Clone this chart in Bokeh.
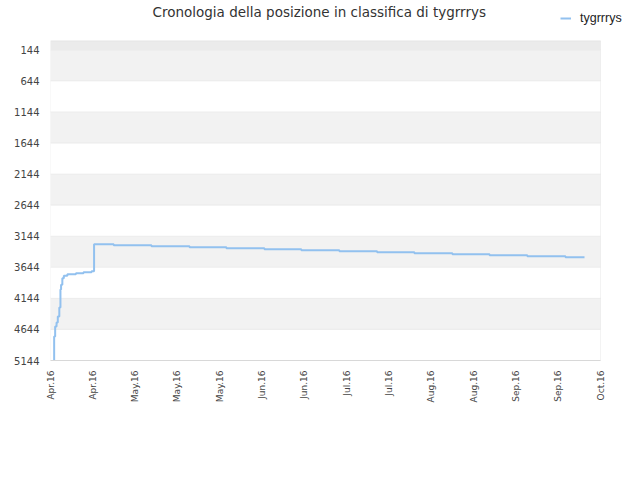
import pandas as pd
from bokeh.plotting import figure
from bokeh.models import (Range1d, FixedTicker, DatetimeTickFormatter, BoxAnnotation,
                          Legend, LegendItem)
from bokeh.embed import file_html
from bokeh.resources import INLINE

# ---- data ----
title_text = "Cronologia della posizione in classifica di tygrrrys"
series_name = "tygrrrys"
dates = [
    "2016-04-04 22:00", "2016-04-05 05:00", "2016-04-05 13:00", "2016-04-06 00:00",
    "2016-04-06 10:00", "2016-04-06 22:00", "2016-04-07 07:00", "2016-04-07 12:00",
    "2016-04-07 22:00", "2016-04-08 10:00", "2016-04-09 14:00", "2016-04-12 10:00",
    "2016-04-14 22:00", "2016-04-17 14:00", "2016-04-18 10:00", "2016-04-24 22:00",
    "2016-05-07 10:00", "2016-05-20 00:00", "2016-06-01 05:00", "2016-06-13 19:00",
    "2016-06-26 00:00", "2016-07-08 14:00", "2016-07-21 02:00", "2016-08-02 10:00",
    "2016-08-15 00:00", "2016-08-27 07:00", "2016-09-08 19:00", "2016-09-21 10:00",
    "2016-09-27 17:00",
]
ranks = [
    5140, 4758, 4597, 4533,
    4436, 4291, 4001, 3926,
    3820, 3781, 3755, 3739,
    3723, 3707, 3272, 3288,
    3304, 3320, 3336, 3352,
    3368, 3385, 3401, 3417,
    3433, 3449, 3465, 3481,
    3481,
]
y_ticks = [144, 644, 1144, 1644, 2144, 2644, 3144, 3644, 4144, 4644, 5144]
x_tick_dates = ["2016-04-04", "2016-04-18", "2016-05-02", "2016-05-16", "2016-05-30",
                "2016-06-13", "2016-06-27", "2016-07-11", "2016-07-25", "2016-08-08",
                "2016-08-22", "2016-09-05", "2016-09-19", "2016-10-03"]
x_start, x_end = "2016-04-04", "2016-10-03"
y_top, y_bottom = -1, 5144

# ---- layout (pixels) ----
W, H = 640, 480
AREA_L, AREA_R, AREA_T, AREA_B = 50, 600, 40.3, 360     # visible plot area
FRAME_T, FRAME_R = 11, 632                                # drawing frame (room for legend)

x = pd.to_datetime(dates)
xt = pd.to_datetime(x_tick_dates)
ms = lambda s: pd.Timestamp(s).value / 1e6
x0, x1 = ms(x_start), ms(x_end)
x_frame_end = x0 + (x1 - x0) * (FRAME_R - AREA_L) / (AREA_R - AREA_L)
per_px = (y_bottom - y_top) / (AREA_B - AREA_T)
y_frame_top = y_top - (AREA_T - FRAME_T) * per_px

p = figure(width=W, height=H, x_axis_type="datetime",
           output_backend="svg", toolbar_location=None,
           x_range=Range1d(x0, x_frame_end),
           y_range=Range1d(y_bottom, y_frame_top),
           min_border_left=AREA_L, min_border_right=W - FRAME_R,
           min_border_top=FRAME_T, min_border_bottom=H - AREA_B)

p.background_fill_color = "white"
p.border_fill_color = "white"
p.outline_line_color = None
p.xgrid.grid_line_color = None
p.ygrid.grid_line_color = None

# plot-area bands
p.add_layout(BoxAnnotation(left=x0, right=x1, bottom=y_top, top=y_ticks[0],
                           fill_color="#ebebeb", fill_alpha=1, line_alpha=0, level="underlay"))
for i in range(0, len(y_ticks) - 1, 2):
    p.add_layout(BoxAnnotation(left=x0, right=x1, bottom=y_ticks[i], top=y_ticks[i + 1],
                               fill_color="#f2f2f2", fill_alpha=1, line_alpha=0,
                               level="underlay"))
# horizontal grid lines
for t in y_ticks:
    p.add_layout(BoxAnnotation(left=x0, right=x1, bottom=t, top=t, fill_alpha=0,
                               line_color="#e3e3e3", line_width=1, level="underlay"))
# plot-area border
p.add_layout(BoxAnnotation(left=x0, right=x1, bottom=y_bottom, top=y_top, fill_alpha=0,
                           line_color="#d8d8d8", line_width=1, level="underlay"))

r = p.step(x, ranks, mode="after", line_color="#92c1ef", line_width=2)

# y axis
p.yaxis.ticker = FixedTicker(ticks=y_ticks)
p.yaxis.axis_line_color = None
p.yaxis.major_tick_line_color = None
p.yaxis.minor_tick_line_color = None
p.yaxis.major_tick_out = 0
p.yaxis.major_label_standoff = 11
p.yaxis.major_label_text_font = "DejaVu Sans"
p.yaxis.major_label_text_font_size = "10px"
p.yaxis.major_label_text_color = "#444444"

# x axis
p.xaxis.ticker = FixedTicker(ticks=[t.value / 1e6 for t in xt])
p.xaxis.formatter = DatetimeTickFormatter(days="%b.%y", months="%b.%y", hours="%b.%y")
p.xaxis.major_label_orientation = 3.14159265 / 2
p.xaxis.bounds = (x0, x1)
p.xaxis.axis_line_color = "#d8d8d8"
p.xaxis.major_tick_line_color = None
p.xaxis.minor_tick_line_color = None
p.xaxis.major_tick_out = 0
p.xaxis.major_label_standoff = 10
p.xaxis.major_label_text_font = "DejaVu Sans"
p.xaxis.major_label_text_font_size = "9px"
p.xaxis.major_label_text_color = "#444444"

# title (negative standoff lifts it above a thin border)
p.title.text = title_text
p.title.align = "left"
p.title.offset = 102
p.title.text_font = "DejaVu Sans"
p.title.text_font_size = "13.5px"
p.title.text_font_style = "normal"
p.title.text_color = "#333333"
p.title.standoff = -16

# legend (top right, above the plot area)
legend = Legend(items=[LegendItem(label=series_name, renderers=[r])],
                location=(510, 335), padding=0, margin=0, spacing=0,
                glyph_width=11, glyph_height=12, label_height=12, label_standoff=9,
                label_text_font="Liberation Sans", label_text_font_size="12.5px",
                label_text_color="#222222",
                background_fill_alpha=0, border_line_alpha=0)
p.add_layout(legend, "center")

open("out.html", "w").write(file_html(p, INLINE))
